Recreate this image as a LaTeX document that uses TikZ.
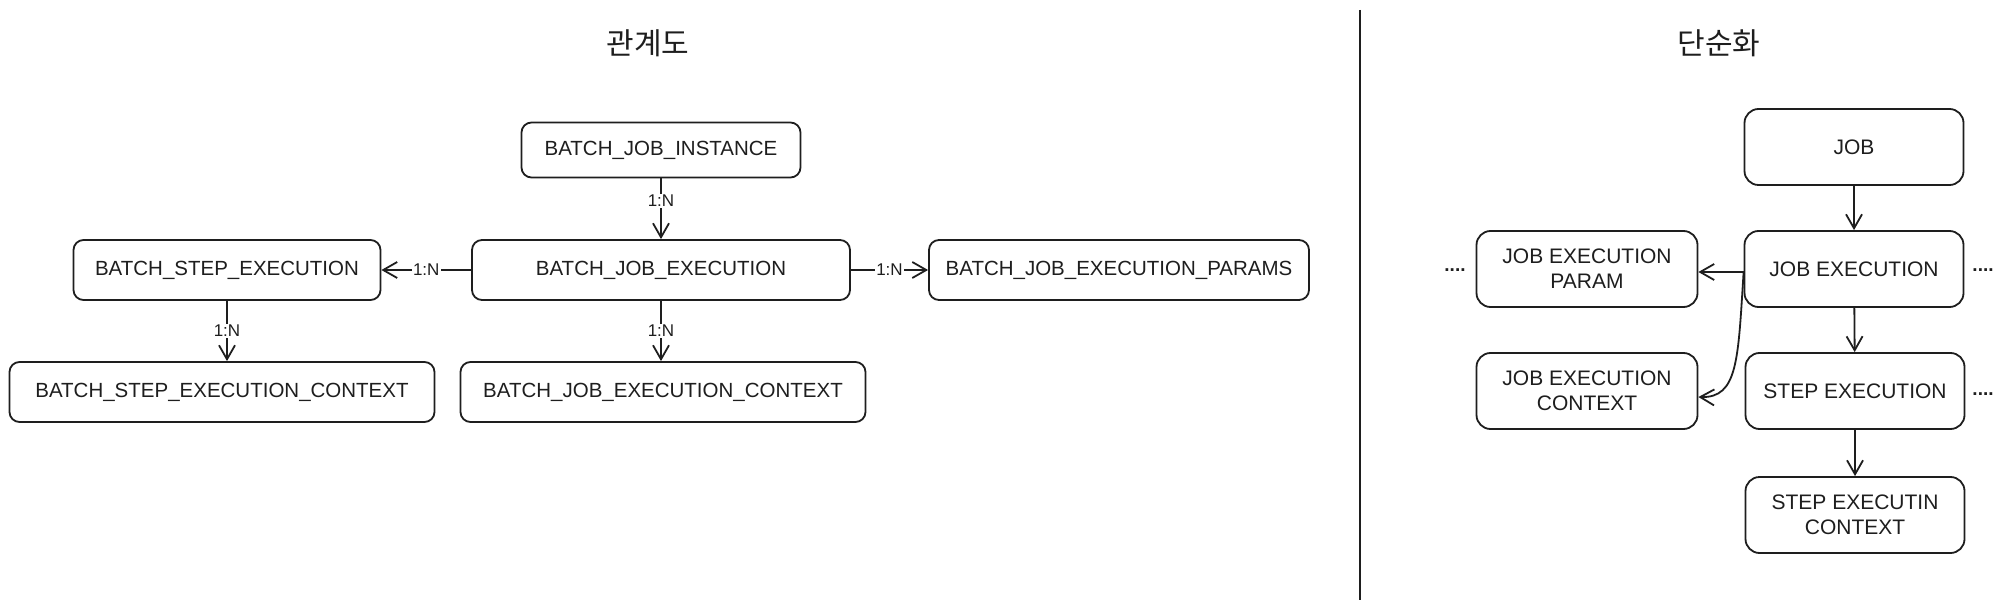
\documentclass[tikz,border=0pt]{standalone}
\usepackage{fontspec}
\setmainfont{Liberation Sans}
\newfontfamily\kfont{Noto Sans CJK KR}
\usetikzlibrary{arrows.meta}
\definecolor{ink}{HTML}{1E1E1E}
\begin{document}
\begin{tikzpicture}[x=1pt,y=-1pt,
  box/.style={draw=ink, text=ink, line width=1.8pt, rounded corners=10pt, minimum height=60pt, inner sep=0pt, font=\fontsize{20.5}{24}\selectfont},
  rbox/.style={box, rounded corners=14pt, minimum height=76pt, minimum width=219pt, align=center, font=\fontsize{21}{25}\selectfont},
  arr/.style={draw=ink, line width=1.8pt, -{Straight Barb[length=14pt,width=16pt,line width=1.8pt]}},
  card/.style={fill=white, text=ink, inner sep=1.5pt, font=\fontsize{17}{19}\selectfont},
  dots/.style={text=ink, inner sep=0pt, font=\bfseries\fontsize{19}{20}\selectfont},
  title/.style={text=ink, font=\kfont\fontsize{30}{36}\selectfont}
]
\useasboundingbox (0,0) rectangle (2004,609);
% titles
\node[title] (t1) at (648,43) {관계도};
\node[title] (t2) at (1719,43) {단순화};
% divider
\coordinate (dtop) at (1360,10);
\coordinate (dbot) at (1360,600);
\draw[ink, line width=2.5pt] (dtop) -- (dbot);

% left diagram
\node[box, minimum width=279pt, minimum height=55pt] (inst) at (661,150) {BATCH\_JOB\_INSTANCE};
\node[box, minimum width=378pt] (jexe) at (661,270) {BATCH\_JOB\_EXECUTION};
\node[box, minimum width=307pt] (sexe) at (227,270) {BATCH\_STEP\_EXECUTION};
\node[box, minimum width=380pt] (par) at (1119,270) {BATCH\_JOB\_EXECUTION\_PARAMS};
\node[box, minimum width=425pt] (sctx) at (222,392) {BATCH\_STEP\_EXECUTION\_CONTEXT};
\node[box, minimum width=405pt] (jctx) at (663,392) {BATCH\_JOB\_EXECUTION\_CONTEXT};

\draw[arr] (inst) -- node[card, pos=0.37] {1:N} (jexe);
\draw[arr] (jexe) -- node[card] {1:N} (sexe);
\draw[arr] (jexe) -- node[card] {1:N} (par);
\draw[arr] (jexe.south) -- node[card] {1:N} (jexe.south |- jctx.north);
\draw[arr] (sexe.south) -- node[card] {1:N} (sexe.south |- sctx.north);

% right diagram
\node[rbox] (job) at (1854,147) {JOB};
\node[rbox] (rje) at (1854,269) {JOB EXECUTION};
\node[rbox] (rse) at (1855,391) {STEP EXECUTION};
\node[rbox] (rsc) at (1855,515) {STEP EXECUTIN\\CONTEXT};
\node[rbox, minimum width=221pt] (rjp) at (1587,269) {JOB EXECUTION\\PARAM};
\node[rbox, minimum width=221pt] (rjc) at (1587,391) {JOB EXECUTION\\CONTEXT};

\node[dots] (d1) at (1455,270) {....};
\node[dots] (d2) at (1983,270) {....};
\node[dots] (d3) at (1983,394) {....};

\draw[arr] (job) -- (rje);
\draw[arr] (rje) -- (rse);
\draw[arr] (rse.south) -- (rse.south |- rsc.north);
\draw[arr] ([yshift=-3pt]rje.west) -- ([yshift=-3pt]rjp.east);
\draw[arr] ([yshift=-3pt]rje.west) .. controls (1738,360) and (1738,398) .. ([yshift=-6pt]rjc.east);
\end{tikzpicture}
\end{document}
